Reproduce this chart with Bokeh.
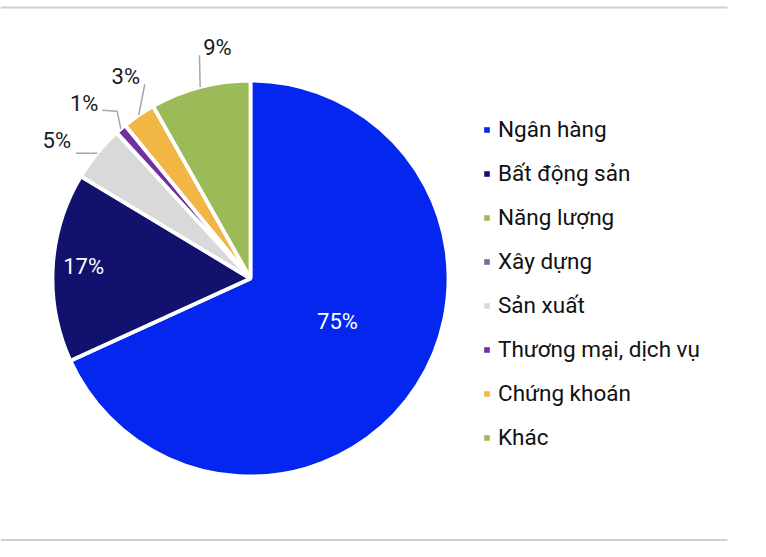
import numpy as np
from bokeh.plotting import figure
from bokeh.models import Range1d, Legend, LegendItem
from bokeh.core.properties import value
from bokeh.embed import file_html
from bokeh.resources import INLINE

# ---- data ----
categories = ["Ngân hàng", "Bất động sản", "Năng lượng", "Xây dựng",
              "Sản xuất", "Thương mại, dịch vụ", "Chứng khoán", "Khác"]
values = [75, 17, 0, 0, 5, 1, 3, 9]
labels = ["75%", "17%", "", "", "5%", "1%", "3%", "9%"]
colors = ["#0526EF", "#12126E", "#9BBB59", "#8064A2",
          "#D9D9D9", "#7030A0", "#F2B644", "#9BBB59"]

# ---- layout / style ----
W, H = 750, 541
CX, CY, R = 250, 263, 198
FONT = "Roboto"
label_r = [0.49, 0.845, 0, 0, 1.2, 1.22, 1.2, 1.18]
label_shift = [-6.4, 0.7, 0, 0, -3.9, -2.6, 2.7, 6.6]
label_col = ["white", "white", None, None, "#1A1A1A", "#1A1A1A", "#1A1A1A", "#1A1A1A"]

p = figure(width=W, height=H, x_range=Range1d(0, W), y_range=Range1d(0, H),
           output_backend="svg", toolbar_location=None, min_border=0,
           x_axis_location=None, y_axis_location=None)
p.grid.visible = False
p.outline_line_color = None

vals = np.array(values, dtype=float)
total = vals.sum()
cum = np.concatenate([[0], np.cumsum(vals)])
start_deg = cum[:-1] / total * 360.0   # clockwise from top
end_deg = cum[1:] / total * 360.0
mid_deg = (start_deg + end_deg) / 2

legend_items = []
for i, cat in enumerate(categories):
    s = np.pi / 2 - np.radians(start_deg[i])
    e = np.pi / 2 - np.radians(end_deg[i])
    if values[i] > 0:
        p.wedge(x=[CX], y=[CY], radius=R, start_angle=[s], end_angle=[e],
                direction="clock", fill_color=colors[i], line_color="white",
                line_width=3.8)
    dummy = p.quad(left=[np.nan], right=[np.nan], top=[np.nan], bottom=[np.nan],
                   fill_color=colors[i], line_color=None)
    legend_items.append(LegendItem(label=cat, renderers=[dummy]))

# labels
lx, ly, lt, lc = [], [], [], []
pos = {}
for i in range(len(categories)):
    if not labels[i]:
        continue
    th = np.radians(mid_deg[i] + label_shift[i])
    x = CX + label_r[i] * R * np.sin(th)
    y = CY + label_r[i] * R * np.cos(th)
    pos[i] = (x, y)
    lx.append(x); ly.append(y); lt.append(labels[i]); lc.append(label_col[i])

p.text(x=lx, y=ly, text=lt, text_color=lc, text_font=value(FONT),
       text_font_size="22px", text_align="center", text_baseline="middle")

# leader lines
xs, ys = [], []
for i in range(4, 8):
    th = np.radians(mid_deg[i])
    ex, ey = CX + R * np.sin(th), CY + R * np.cos(th)
    Lx, Ly = pos[i]
    if i == 4:
        px_, py_ = [ex, Lx + 19], [ey, ey]
    elif i == 5:
        px_, py_ = [ex, Lx + 33, Lx + 18], [ey, Ly - 8, Ly - 7]
    elif i == 6:
        px_, py_ = [ex, Lx + 19], [ey, Ly - 8]
    else:
        px_, py_ = [ex, Lx - 18], [ey, Ly - 8]
    xs.append(px_); ys.append(py_)
p.multi_line(xs=xs, ys=ys, line_color="#A6A6A6", line_width=1.5)

# frame lines top/bottom
p.segment(x0=[0, 0], y0=[534, 1.5], x1=[727, 727], y1=[534, 1.5],
          line_color="#D0D0D0", line_width=2)

legend = Legend(items=legend_items, location=(483, 91), orientation="vertical",
                glyph_width=7, glyph_height=7, label_standoff=8,
                label_text_font=FONT, label_text_font_size="22.5px",
                label_text_color="#111111", label_height=26, spacing=18,
                padding=0, margin=0, border_line_color=None,
                background_fill_color=None)
p.add_layout(legend, "center")

open("out.html", "w").write(file_html(p, INLINE))
